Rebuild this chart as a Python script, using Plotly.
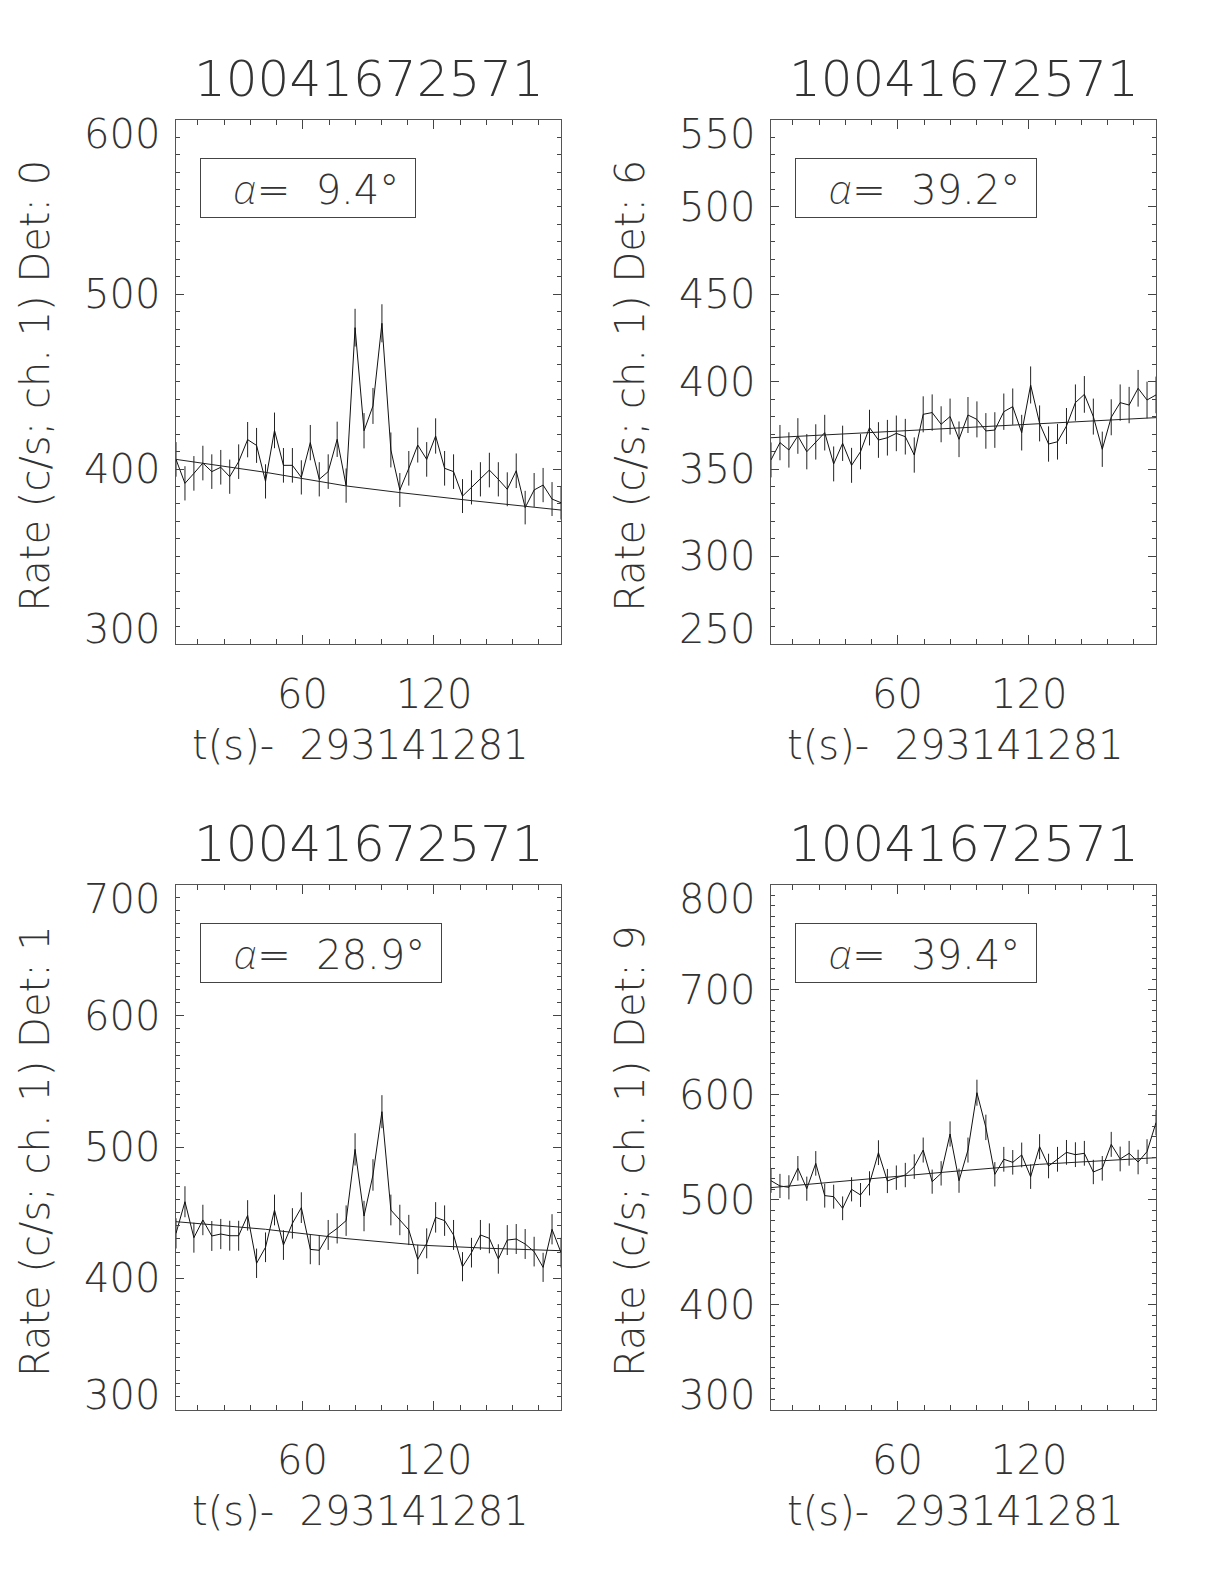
import plotly.graph_objects as go

# ---------------- data ----------------
time_s = [2.0, 6.1, 10.19, 14.29, 18.38, 22.48, 26.58, 30.67, 34.77, 38.86,
          42.96, 47.06, 51.15, 55.25, 59.34, 63.44, 67.54, 71.63, 75.73, 79.82,
          83.92, 88.02, 92.11, 96.21, 100.3, 104.4, 108.5, 112.59, 116.69, 120.78,
          124.88, 128.98, 133.07, 137.17, 141.26, 145.36, 149.46, 153.55, 157.65, 161.74,
          165.84, 169.94, 174.03, 178.13]

det0_rate = [405.5, 391.8, 397.5, 403.4, 398.5, 401.0, 395.6, 404.2, 416.8, 413.5,
             392.9, 422.1, 402.1, 402.1, 395.2, 415.1, 394.1, 398.5, 417.0, 390.5,
             480.9, 421.9, 436.1, 483.4, 410.9, 388.0, 400.4, 413.7, 405.5, 418.9,
             400.4, 398.5, 384.5, 389.5, 394.1, 399.4, 394.1, 388.4, 399.0, 377.9,
             388.0, 390.8, 382.8, 380.7]
det0_err = [9.9, 9.8, 9.9, 9.9, 9.9, 9.9, 9.8, 9.9, 10.1, 10.0, 9.8, 10.2, 9.9, 9.9,
            9.8, 10.1, 9.8, 9.9, 10.1, 9.8, 10.8, 10.1, 10.3, 10.9, 10.0, 9.7, 9.9,
            10.0, 9.9, 10.1, 9.9, 9.9, 9.7, 9.8, 9.8, 9.9, 9.8, 9.7, 9.9, 9.6, 9.7,
            9.8, 9.7, 9.6]
det0_bg_t = [2.0, 42.96, 79.82, 104.4, 137.17, 178.13]
det0_bg = [405.5, 398.1, 390.3, 386.5, 381.9, 376.5]

det6_rate = [355.2, 365.1, 360.9, 368.9, 359.9, 365.5, 370.8, 352.9, 364.7, 352.1,
             359.9, 373.7, 366.6, 367.9, 370.4, 368.5, 358.0, 381.3, 382.3, 375.6,
             380.0, 367.0, 380.9, 378.4, 371.8, 372.3, 382.8, 385.7, 370.8, 398.1,
             376.1, 364.3, 365.6, 374.6, 388.0, 392.7, 380.0, 361.3, 379.6, 388.0,
             386.6, 396.2, 389.5, 392.4]
det6_err = [10.0, 10.1, 10.1, 10.2, 10.1, 10.1, 10.2, 10.0, 10.1, 10.0, 10.1, 10.2,
            10.2, 10.2, 10.2, 10.2, 10.1, 10.3, 10.4, 10.3, 10.3, 10.2, 10.3, 10.3,
            10.2, 10.2, 10.4, 10.4, 10.2, 10.6, 10.3, 10.1, 10.2, 10.3, 10.4, 10.5,
            10.3, 10.1, 10.3, 10.4, 10.4, 10.5, 10.5, 10.5]
det6_bg_t = [2.0, 83.92, 178.13]
det6_bg = [367.9, 373.3, 379.4]

det1_rate = [434.2, 458.3, 430.9, 444.4, 432.2, 433.7, 432.4, 432.4, 447.9, 411.4,
             423.6, 452.0, 425.3, 441.8, 453.8, 422.0, 421.3, 433.0, 438.0, 443.9,
             498.2, 447.4, 478.7, 526.9, 452.0, 444.4, 436.8, 414.4, 426.6, 446.4,
             443.9, 433.0, 408.8, 419.5, 433.0, 430.4, 414.7, 429.1, 429.9, 426.1,
             420.3, 408.3, 437.3, 419.5]
det1_err = [11.5, 11.8, 11.4, 11.6, 11.4, 11.5, 11.4, 11.4, 11.6, 11.2, 11.3, 11.7,
            11.3, 11.6, 11.7, 11.3, 11.3, 11.4, 11.5, 11.6, 12.3, 11.6, 12.0, 12.6,
            11.7, 11.6, 11.5, 11.2, 11.4, 11.6, 11.6, 11.4, 11.1, 11.3, 11.4, 11.4,
            11.2, 11.4, 11.4, 11.4, 11.3, 11.1, 11.5, 11.3]
det1_bg_t = [2.0, 42.96, 79.82, 112.59, 145.36, 178.13]
det1_bg = [443.1, 437.3, 430.2, 425.3, 422.8, 421.0]

det9_rate = [517.9, 512.9, 511.6, 529.7, 510.3, 534.4, 503.7, 502.7, 491.6, 509.7,
             504.3, 515.4, 544.6, 517.6, 520.8, 523.3, 531.3, 547.1, 517.0, 524.9,
             562.4, 517.9, 547.1, 601.7, 568.7, 524.0, 538.3, 535.4, 542.4, 521.7,
             550.3, 531.9, 538.3, 544.9, 542.7, 544.0, 526.2, 529.7, 552.5, 538.6,
             544.0, 535.7, 545.6, 573.2]
det9_err = [11.5, 11.5, 11.5, 11.7, 11.5, 11.7, 11.4, 11.4, 11.3, 11.5, 11.4, 11.5,
            11.8, 11.5, 11.6, 11.6, 11.7, 11.9, 11.5, 11.6, 12.0, 11.5, 11.9, 12.4,
            12.1, 11.6, 11.8, 11.7, 11.8, 11.6, 11.9, 11.7, 11.8, 11.8, 11.8, 11.8,
            11.6, 11.7, 11.9, 11.8, 11.8, 11.7, 11.8, 12.1]
det9_bg_t = [2.0, 42.96, 83.92, 124.88, 178.13]
det9_bg = [511.3, 519.2, 526.5, 533.5, 539.8]

titles = ["10041672571", "10041672571", "10041672571", "10041672571"]
det_names = ["0", "6", "1", "9"]
alphas = ["9.4", "39.2", "28.9", "39.4"]
y_ranges = [[300, 600], [250, 550], [300, 700], [300, 800]]
y_ticks = [[300, 400, 500, 600], [250, 300, 350, 400, 450, 500, 550],
           [300, 400, 500, 600, 700], [300, 400, 500, 600, 700, 800]]
x_ticks = [60, 120]
x_range = [2.0, 178.13]
t_offset = "293141281"

panels = [
    (det0_rate, det0_err, det0_bg_t, det0_bg),
    (det6_rate, det6_err, det6_bg_t, det6_bg),
    (det1_rate, det1_err, det1_bg_t, det1_bg),
    (det9_rate, det9_err, det9_bg_t, det9_bg),
]

# ---------------- layout geometry ----------------
PAGE_OFF = 8            # default body margin of the html page
W, H = 1224 - 2 * PAGE_OFF, 1584 - 2 * PAGE_OFF


def px_x(p):
    return (p - PAGE_OFF) / W


def px_y(p):
    return 1 - (p - PAGE_OFF) / H


x_doms = [[px_x(176), px_x(561)], [px_x(771), px_x(1156)]]
y_doms = [[px_y(643.7), px_y(119.6)], [px_y(1409.5), px_y(884.5)]]
box_widths = [216, 242, 242, 242]

FAM = "DejaVu Sans"
WT = 200
TXT = "#333333"
font_tick = dict(family=FAM, size=40, color=TXT, weight=WT)
font_title = dict(family=FAM, size=50, color=TXT, weight=WT)
ALPHA = '<span style="font-family:Noto Sans;font-weight:200"><i>α</i></span>'

fig = go.Figure()
annotations = []
layout_axes = {}

for k, (rate, err, bg_t, bg) in enumerate(panels):
    n = k + 1
    xa = "x" if n == 1 else f"x{n}"
    ya = "y" if n == 1 else f"y{n}"
    row, col = divmod(k, 2)

    fig.add_trace(go.Scatter(
        x=time_s, y=rate, mode="lines", xaxis=xa, yaxis=ya,
        line=dict(color="#111111", width=1),
        error_y=dict(type="data", array=err, visible=True, width=0,
                     thickness=1, color="#222222"),
        showlegend=False, hoverinfo="skip"))
    fig.add_trace(go.Scatter(
        x=bg_t, y=bg, mode="lines", xaxis=xa, yaxis=ya,
        line=dict(color="#222222", width=1),
        showlegend=False, hoverinfo="skip"))

    common = dict(showline=True, linecolor="#555555", linewidth=1,
                  mirror="allticks", ticks="inside", tickcolor="#444444",
                  showgrid=False, zeroline=False, showticklabels=False)
    layout_axes["xaxis" if n == 1 else f"xaxis{n}"] = dict(
        domain=x_doms[col], anchor=ya, range=x_range,
        tickvals=x_ticks, ticklen=9, tickwidth=1,
        minor=dict(dtick=12, tick0=0, ticks="inside", ticklen=5,
                   tickcolor="#444444", showgrid=False),
        **common)
    layout_axes["yaxis" if n == 1 else f"yaxis{n}"] = dict(
        domain=y_doms[row], anchor=xa, range=y_ranges[k],
        tickvals=y_ticks[k], ticklen=8, tickwidth=1,
        minor=dict(dtick=10, tick0=0, ticks="inside", ticklen=4,
                   tickcolor="#444444", showgrid=False),
        **common)

    xd = f"{xa} domain"
    yd = f"{ya} domain"

    yt = y_ticks[k]
    for v in yt:
        if v == max(yt):
            anc, sh = "top", 11
        elif v == min(yt):
            anc, sh = "bottom", -10
        else:
            anc, sh = "middle", 0
        annotations.append(dict(xref=xd, yref=ya, x=0, y=v, xanchor="right",
                                yanchor=anc, xshift=-14, yshift=sh, text=str(v),
                                showarrow=False, font=font_tick))
    for v in x_ticks:
        annotations.append(dict(xref=xa, yref=yd, x=v, y=0, xanchor="center",
                                yanchor="top", yshift=-25, text=str(v),
                                showarrow=False, font=font_tick))
    annotations.append(dict(xref=xd, yref=yd, x=0.48, y=0, xanchor="center",
                            yanchor="middle", yshift=-101,
                            text=f"t(s)-\u00a0\u00a0{t_offset}",
                            showarrow=False, font=font_tick))
    annotations.append(dict(xref=xd, yref=yd, x=0, y=0.5, xanchor="center",
                            yanchor="middle", xshift=-141, yshift=-4,
                            textangle=-90,
                            text=f"Rate (c/s; ch. 1) Det: {det_names[k]}",
                            showarrow=False, font=font_tick))
    annotations.append(dict(xref=xd, yref=yd, x=0.5, y=1, xanchor="center",
                            yanchor="middle", yshift=41, text=titles[k],
                            showarrow=False, font=font_title))
    pad = 3
    annotations.append(dict(xref=xd, yref=yd, x=0, y=1, xanchor="left",
                            yanchor="top", xshift=24, yshift=-38,
                            width=box_widths[k] - 2 * pad - 2, height=60 - 2 * pad - 2,
                            align="right", valign="middle", borderpad=pad,
                            bordercolor="#444444", borderwidth=1,
                            text=f"{ALPHA}=\u00a0\u00a0{alphas[k]}°\u00a0",
                            showarrow=False, font=font_tick))

fig.update_layout(
    width=W, height=H,
    margin=dict(l=0, r=0, t=0, b=0),
    paper_bgcolor="white", plot_bgcolor="white",
    showlegend=False,
    annotations=annotations,
    **layout_axes,
)

fig.write_html("out.html")
